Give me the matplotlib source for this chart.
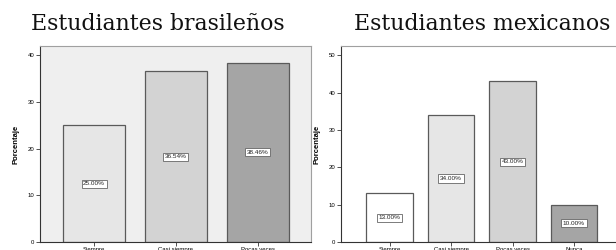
import matplotlib
matplotlib.use('Agg')
import matplotlib.pyplot as plt

# Data
bra_cats = ['Siempre', 'Casi siempre', 'Pocas veces']
bra_vals = [25.00, 36.54, 38.46]
bra_colors = ['#e6e6e6', '#d3d3d3', '#a5a5a5']

mex_cats = ['Siempre', 'Casi siempre', 'Pocas veces', 'Nunca']
mex_vals = [13.00, 34.00, 43.00, 10.00]
mex_colors = ['#ffffff', '#e6e6e6', '#d3d3d3', '#a5a5a5']

W, H = 616, 250
fig = plt.figure(figsize=(W / 100, H / 100), dpi=100)


def panel(rect, cats, vals, colors, xlim, ylim, yticks, bg):
    ax = fig.add_axes(rect)
    ax.set_facecolor(bg)
    x = range(len(cats))
    ax.bar(x, vals, width=0.76, color=colors, edgecolor='#5a5a5a', linewidth=0.9, zorder=2)
    for xi, v in zip(x, vals):
        ax.text(xi, v / 2, '%.2f%%' % v, ha='center', va='center', fontsize=4.6,
                family='Liberation Sans', color='#222222', zorder=3,
                bbox=dict(boxstyle='square,pad=0.25', fc='white', ec='#666666', lw=0.6))
    ax.set_xlim(*xlim)
    ax.set_ylim(*ylim)
    ax.set_xticks(list(x))
    ax.set_xticklabels(cats, fontsize=4.3, family='Liberation Sans')
    ax.set_yticks(yticks)
    ax.set_yticklabels([str(t) for t in yticks], fontsize=4.3, family='Liberation Sans')
    ax.tick_params(axis='both', length=3, width=0.6, pad=1, color='#333333')
    ax.tick_params(axis='x', pad=0.5)
    ax.set_ylabel('Porcentaje', fontsize=5.5, fontweight='bold', family='Liberation Sans',
                  labelpad=6)
    for s in ax.spines.values():
        s.set_color('#a0a0a0')
        s.set_linewidth(0.8)
    ax.spines['left'].set_color('#333333')
    ax.spines['bottom'].set_color('#333333')
    return ax


bot = 1 - 242 / H
top = 1 - 46 / H
panel([40 / W, bot, (311 - 40) / W, top - bot], bra_cats, bra_vals, bra_colors,
      (-0.66, 2.65), (0, 42), [0, 10, 20, 30, 40], '#efefef')
panel([341 / W, bot, (625 - 341) / W, top - bot], mex_cats, mex_vals, mex_colors,
      (-0.79, 3.83), (0, 52.5), [0, 10, 20, 30, 40, 50], '#ffffff')

fig.text(158 / W, 1 - 30 / H, 'Estudiantes brasileños', ha='center', va='baseline',
         fontsize=15.8, family='DejaVu Serif', color='#111111')
fig.text(482 / W, 1 - 30 / H, 'Estudiantes mexicanos', ha='center', va='baseline',
         fontsize=15.8, family='DejaVu Serif', color='#111111')

fig.savefig('out.png', dpi=100)
